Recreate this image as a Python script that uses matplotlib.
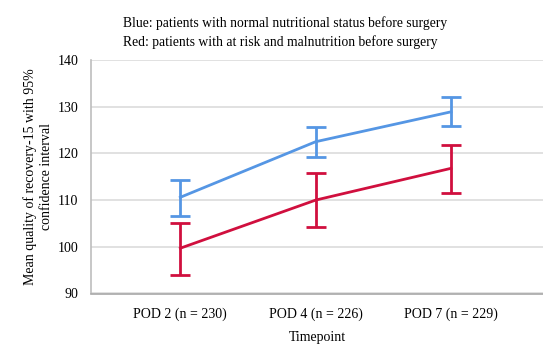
import matplotlib
matplotlib.use("Agg")
import matplotlib.pyplot as plt

plt.rcParams['font.family'] = ['Liberation Serif', 'DejaVu Serif']

# timepoints and group means with 95% CI
timepoints = ['POD 2 (n = 230)', 'POD 4 (n = 226)', 'POD 7 (n = 229)']
blue_mean = [110.6, 122.5, 128.9]
blue_low = [106.6, 119.3, 125.9]
blue_high = [114.4, 125.6, 132.0]
red_mean = [99.7, 110.0, 116.8]
red_low = [93.9, 104.3, 111.6]
red_high = [105.1, 115.7, 121.9]

blue = '#5596E4'
red = '#D00F3E'

fig = plt.figure(figsize=(5.43, 3.46), dpi=100)
ax = fig.add_axes([91 / 543, 1 - 293.5 / 346, 452 / 543, 233.5 / 346])

x = list(range(len(timepoints)))
for mean, low, high, color in [(blue_mean, blue_low, blue_high, blue),
                               (red_mean, red_low, red_high, red)]:
    err = [[m - l for m, l in zip(mean, low)], [h - m for m, h in zip(mean, high)]]
    ax.errorbar(x, mean, yerr=err, color=color, lw=2, elinewidth=2,
                capsize=7.5, capthick=2, zorder=3)

ax.set_xlim(-0.66, 2.68)
ax.set_ylim(90, 140)
ax.set_yticks([90, 100, 110, 120, 130, 140])
ax.set_xticks(x)
ax.set_xticklabels(timepoints)
ax.yaxis.grid(True, color='#dcdcdc', lw=1.2)
ax.set_axisbelow(True)
ax.tick_params(length=0, labelsize=10)
ax.tick_params(axis='y', pad=9)
ax.tick_params(axis='x', pad=10)
for s in ['top', 'right']:
    ax.spines[s].set_visible(False)
ax.spines['left'].set_color('#bdbdbd')
ax.spines['bottom'].set_color('#a8a8a8')
ax.spines['left'].set_linewidth(1.2)
ax.spines['bottom'].set_linewidth(1.2)

ax.set_xlabel('Timepoint', fontsize=10, labelpad=7)
ax.set_ylabel('Mean quality of recovery-15 with 95%\nconfidence interval', fontsize=10,
              labelpad=3, linespacing=1.35)

fig.text(123 / 543, 1 - 23 / 346, 'Blue: patients with normal nutritional status before surgery',
         fontsize=9.8, va='center', ha='left')
fig.text(123 / 543, 1 - 42 / 346, 'Red: patients with at risk and malnutrition before surgery',
         fontsize=9.8, va='center', ha='left')

fig.savefig('out.png', dpi=100)
